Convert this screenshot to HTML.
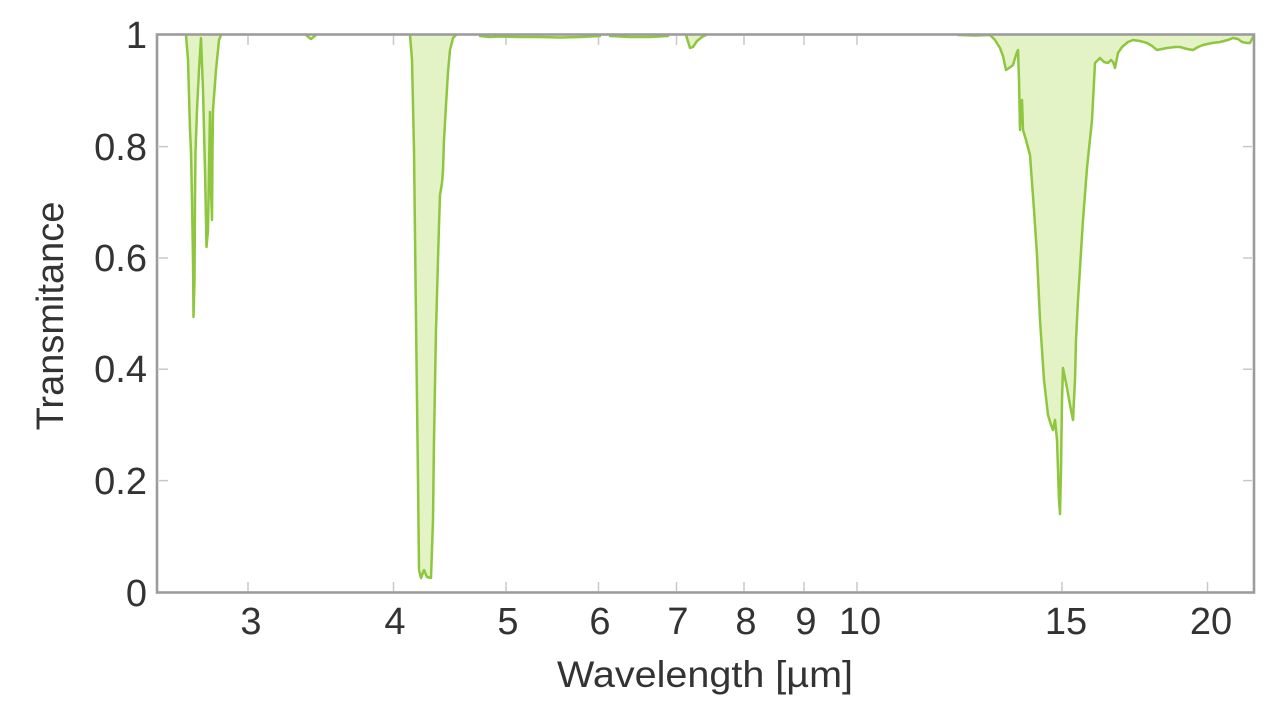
<!DOCTYPE html>
<html>
<head>
<meta charset="utf-8">
<style>
html,body{margin:0;padding:0;background:#fff;}
svg{display:block;}
text{font-family:"Liberation Sans","DejaVu Sans",sans-serif;fill:#333;}
</style>
</head>
<body>
<svg width="1280" height="720" viewBox="0 0 1280 720" xmlns="http://www.w3.org/2000/svg">
<rect x="0" y="0" width="1280" height="720" fill="#fff"/>

<!-- minor tick marks -->
<g stroke="#c8c8c8" stroke-width="1.5">
  <line x1="159" y1="146.6" x2="168" y2="146.6"/>
  <line x1="159" y1="258" x2="168" y2="258"/>
  <line x1="159" y1="369.2" x2="168" y2="369.2"/>
  <line x1="159" y1="480.6" x2="168" y2="480.6"/>
  <line x1="1243" y1="146.6" x2="1252" y2="146.6"/>
  <line x1="1243" y1="258" x2="1252" y2="258"/>
  <line x1="1243" y1="369.2" x2="1252" y2="369.2"/>
  <line x1="1243" y1="480.6" x2="1252" y2="480.6"/>
  <line x1="248" y1="582" x2="248" y2="591"/>
  <line x1="393.5" y1="582" x2="393.5" y2="591"/>
  <line x1="506" y1="582" x2="506" y2="591"/>
  <line x1="598.5" y1="582" x2="598.5" y2="591"/>
  <line x1="676.5" y1="582" x2="676.5" y2="591"/>
  <line x1="744" y1="582" x2="744" y2="591"/>
  <line x1="804" y1="582" x2="804" y2="591"/>
  <line x1="857" y1="582" x2="857" y2="591"/>
  <line x1="1062" y1="582" x2="1062" y2="591"/>
  <line x1="1207.5" y1="582" x2="1207.5" y2="591"/>
  <line x1="248" y1="36" x2="248" y2="45"/>
  <line x1="393.5" y1="36" x2="393.5" y2="45"/>
  <line x1="506" y1="36" x2="506" y2="45"/>
  <line x1="598.5" y1="36" x2="598.5" y2="45"/>
  <line x1="676.5" y1="36" x2="676.5" y2="45"/>
  <line x1="744" y1="36" x2="744" y2="45"/>
  <line x1="804" y1="36" x2="804" y2="45"/>
  <line x1="857" y1="36" x2="857" y2="45"/>
  <line x1="1062" y1="36" x2="1062" y2="45"/>
  <line x1="1207.5" y1="36" x2="1207.5" y2="45"/>
</g>

<!-- fills -->
<g fill="#e3f3c6" stroke="none">
  <polygon points="186,35 188,60 190,130 191,152 192,200 193,260 193.5,317 194.5,280 195,200 195.5,152 197,110 199,70 201,38 203,90 205,170 206.5,247 208,230 209,170 210,112 211,190 212,220 212.5,150 213,110 216,70 219,40 221,35"/>
  <polygon points="410,35 412,60 414,150 416,320 418,480 419,570 421,578 424,570 427,577 431,578 433,520 434,440 436,330 438,260 439,225 440,195 442,183 443,170 444,140 446,105 448,72 450,50 453,38 456,35"/>
  <polygon points="686,35 690,48 693,47 697,41 702,37 706,35"/>
  <polygon points="958,35 975,35.5 990,35 995,40 1000,48 1003,56 1006,70 1009,68 1013,65 1016,55 1018,50 1019,80 1020,130 1021,105 1022,100 1023,130 1026,140 1030,155 1034,210 1037,255 1040,320 1044,380 1048,415 1051,425 1053,430 1055,420 1057,440 1059,500 1060,514 1061,470 1062,400 1063,368 1065,378 1067,388 1070,405 1073,420 1075,380 1076,340 1078,300 1083,220 1087,168 1092,120 1095,63 1100,58 1104,62 1108,63 1111,60 1113,62 1115,68 1118,53 1122,47 1128,42 1133,40 1140,41 1147,43 1152,46 1157,50 1162,49 1167,48 1175,47 1180,47 1187,49 1193,50 1198,47 1203,45 1212,43 1220,42 1228,40 1233,38 1238,39 1242,42 1247,43 1250,43 1253,37 1253,35"/>
</g>

<!-- curves -->
<g fill="none" stroke="#8ec63f" stroke-width="2.5" stroke-linejoin="round" stroke-linecap="round">
  <polyline points="186,35 188,60 190,130 191,152 192,200 193,260 193.5,317 194.5,280 195,200 195.5,152 197,110 199,70 201,38 203,90 205,170 206.5,247 208,230 209,170 210,112 211,190 212,220 212.5,150 213,110 216,70 219,40 221,35"/>
  <polyline points="306,35 311,39 316,35"/>
  <polyline points="410,35 412,60 414,150 416,320 418,480 419,570 421,578 424,570 427,577 431,578 433,520 434,440 436,330 438,260 439,225 440,195 442,183 443,170 444,140 446,105 448,72 450,50 453,38 456,35"/>
  <polyline points="480,36 490,37 500,36.5 520,37 540,37 560,37.5 580,37 600,36"/>
  <polyline points="610,36 630,37 650,37 668,36"/>
  <polyline points="686,35 690,48 693,47 697,41 702,37 706,35"/>
  <polyline points="958,35 975,35.5 990,35 995,40 1000,48 1003,56 1006,70 1009,68 1013,65 1016,55 1018,50 1019,80 1020,130 1021,105 1022,100 1023,130 1026,140 1030,155 1034,210 1037,255 1040,320 1044,380 1048,415 1051,425 1053,430 1055,420 1057,440 1059,500 1060,514 1061,470 1062,400 1063,368 1065,378 1067,388 1070,405 1073,420 1075,380 1076,340 1078,300 1083,220 1087,168 1092,120 1095,63 1100,58 1104,62 1108,63 1111,60 1113,62 1115,68 1118,53 1122,47 1128,42 1133,40 1140,41 1147,43 1152,46 1157,50 1162,49 1167,48 1175,47 1180,47 1187,49 1193,50 1198,47 1203,45 1212,43 1220,42 1228,40 1233,38 1238,39 1242,42 1247,43 1250,43 1253,37"/>
</g>

<!-- frame -->
<rect x="157" y="34.5" width="1097" height="558" fill="none" stroke="#9c9c9c" stroke-width="2.6"/>

<!-- y tick labels -->
<g font-size="38" text-anchor="end">
  <text x="147" y="48">1</text>
  <text x="147" y="160">0.8</text>
  <text x="147" y="271">0.6</text>
  <text x="147" y="382">0.4</text>
  <text x="147" y="494">0.2</text>
  <text x="147" y="606">0</text>
</g>

<!-- x tick labels -->
<g font-size="38" text-anchor="middle">
  <text x="251" y="634">3</text>
  <text x="395" y="634">4</text>
  <text x="508" y="634">5</text>
  <text x="600" y="634">6</text>
  <text x="678" y="634">7</text>
  <text x="746" y="634">8</text>
  <text x="806" y="634">9</text>
  <text x="860" y="634">10</text>
  <text x="1066" y="634">15</text>
  <text x="1211" y="634">20</text>
</g>

<!-- axis titles -->
<text x="557" y="687" font-size="37" textLength="296" lengthAdjust="spacingAndGlyphs" fill="#3a3a3a">Wavelength [µm]</text>
<text transform="translate(63,316) rotate(-90)" font-size="38" text-anchor="middle" fill="#3a3a3a">Transmitance</text>
</svg>
</body>
</html>
